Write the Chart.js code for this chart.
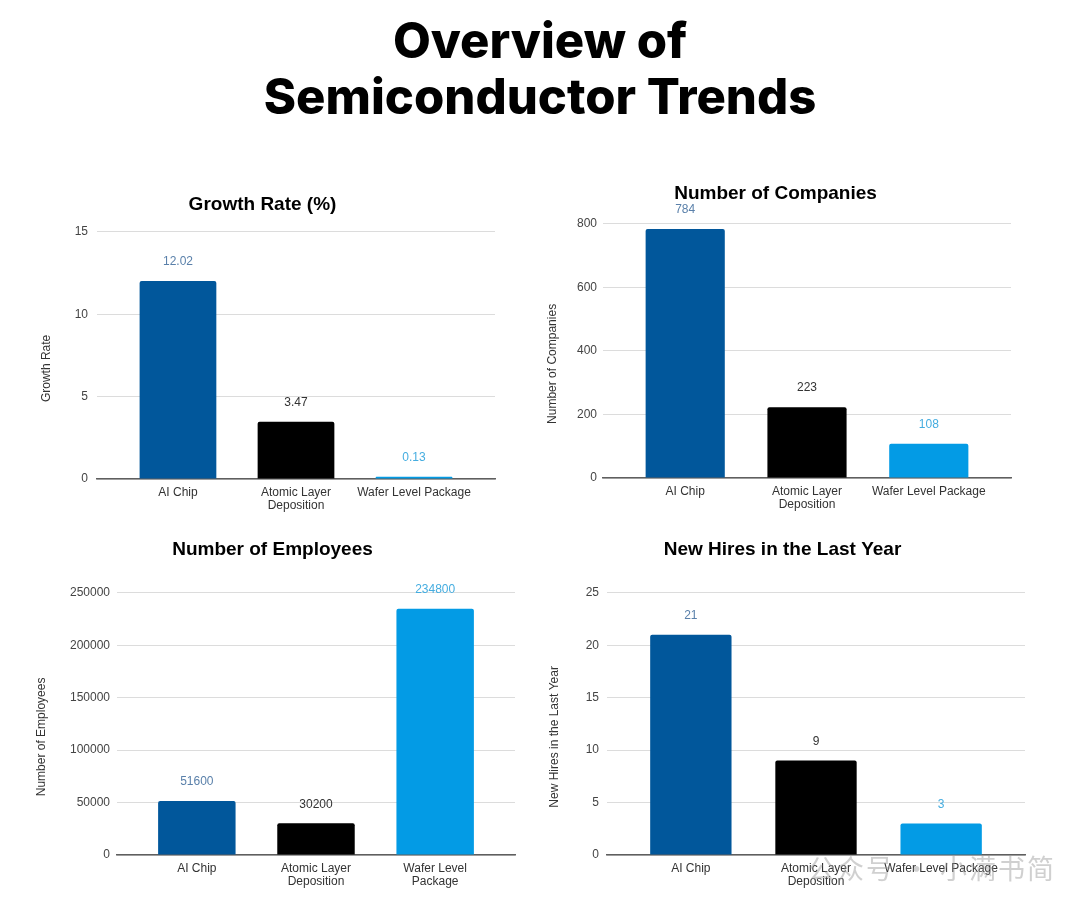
<!DOCTYPE html>
<html>
<head>
<meta charset="utf-8">
<script src="https://cdn.jsdelivr.net/npm/chart.js@4"></script>
<style>
  body { margin: 0; background: #fff; width: 1080px; height: 911px; position: relative; overflow: hidden; }
  h1 { position: absolute; left: 0; top: 13px; width: 1080px; margin: 0; text-align: center;
       font-family: "Inter", sans-serif; font-weight: 800; font-size: 49px; line-height: 56px; color: #000; }
  .box { position: absolute; }
  .mark { position: absolute; left: 808px; top: 848px; font-family: "Noto Sans CJK SC", sans-serif;
          font-size: 27px; color: rgba(150,150,150,0.45); letter-spacing: 2px; }
</style>
</head>
<body>
<h1>Overview of<br>Semiconductor Trends</h1>
<div class="box" style="left:30px;top:180px;width:476px;height:340px"><canvas id="c1"></canvas></div>
<div class="box" style="left:540px;top:170px;width:476px;height:349px"><canvas id="c2"></canvas></div>
<div class="box" style="left:30px;top:526px;width:508px;height:370px"><canvas id="c3"></canvas></div>
<div class="box" style="left:540px;top:526px;width:510px;height:370px"><canvas id="c4"></canvas></div>
<div class="mark">公众号 · 小满书简</div>
<script>
const categories = ['AI Chip', 'Atomic Layer Deposition', 'Wafer Level Package'];
const growthRate = [12.02, 3.47, 0.13];
const companies = [784, 223, 108];
const employees = [51600, 30200, 234800];
const newHires = [21, 9, 3];

// how the category names wrap under each chart
const labelsWide = [['AI Chip'], ['Atomic Layer', 'Deposition'], ['Wafer Level Package']];
const labelsNarrow = [['AI Chip'], ['Atomic Layer', 'Deposition'], ['Wafer Level', 'Package']];

const barColors = ['#01579b', '#000000', '#039be5'];
const valueColors = ['#5a80aa', '#333333', '#45ade0'];
const FONT = '"Liberation Sans", Arial, sans-serif';

const valueLabels = {
  id: 'valueLabels',
  afterDatasetsDraw(chart) {
    const ctx = chart.ctx;
    const meta = chart.getDatasetMeta(0);
    ctx.save();
    ctx.font = '12px ' + FONT;
    ctx.textAlign = 'center';
    ctx.textBaseline = 'middle';
    meta.data.forEach((bar, i) => {
      ctx.fillStyle = valueColors[i];
      ctx.fillText(String(chart.data.datasets[0].data[i].y), bar.x, bar.y - 19);
    });
    ctx.restore();
  }
};

// y axis title, sits a bit below the middle of the plot like the sheets export
const yTitle = {
  id: 'yTitle',
  afterDraw(chart, args, opts) {
    const ctx = chart.ctx;
    const a = chart.chartArea;
    ctx.save();
    ctx.translate(opts.x, (a.top + a.bottom) / 2 + 13);
    ctx.rotate(-Math.PI / 2);
    ctx.font = '12px ' + FONT;
    ctx.fillStyle = '#333';
    ctx.textAlign = 'center';
    ctx.textBaseline = 'middle';
    ctx.fillText(opts.text, 0, 0);
    ctx.restore();
  }
};

function makeChart(id, cfg) {
  const pts = cfg.values.map((v, i) => ({ x: i, y: v }));
  new Chart(document.getElementById(id), {
    type: 'bar',
    data: { datasets: [{ data: pts, backgroundColor: barColors, barPercentage: 0.65, categoryPercentage: 1, borderRadius: 2, borderSkipped: 'bottom' }] },
    options: {
      responsive: true,
      maintainAspectRatio: false,
      animation: false,
      layout: { padding: { left: 0, right: cfg.padRight, top: 0, bottom: 0 } },
      plugins: {
        legend: { display: false },
        tooltip: { enabled: false },
        title: { display: true, text: cfg.title, color: '#000', font: { family: FONT, size: 19, weight: 'bold' },
                 padding: { top: cfg.titleTop, bottom: cfg.titleBottom } },
        yTitle: { text: cfg.axisTitle, x: cfg.axisTitleX }
      },
      scales: {
        x: {
          type: 'linear', min: -cfg.side, max: 2 + cfg.side, bounds: 'data', offset: false,
          grid: { display: false, offset: false, drawTicks: false },
          border: { display: true, color: '#5f5f5f', width: 1.5 },
          afterBuildTicks: s => { s.ticks = categories.map((c, i) => ({ value: i })); },
          ticks: {
            autoSkip: false, maxRotation: 0, minRotation: 0, padding: 7,
            color: '#333', font: { family: FONT, size: 12, lineHeight: 1.1 },
            callback: (v, i) => cfg.labels[i]
          },
          afterFit: s => { s.height = cfg.xHeight; }
        },
        y: {
          min: 0, max: cfg.max,
          grid: { color: '#dcdcdc', drawTicks: false },
          border: { display: false },
          ticks: { stepSize: cfg.step, padding: cfg.tickPad, color: '#444', font: { family: FONT, size: 12 },
                   callback: v => String(v) },
          afterFit: s => { s.width = cfg.yWidth; }
        }
      }
    },
    plugins: [valueLabels, yTitle]
  });
}

makeChart('c1', { title: 'Growth Rate (%)', axisTitle: 'Growth Rate', values: growthRate, labels: labelsWide,
  max: 15, step: 5, side: 0.686, padRight: 11, yWidth: 67, tickPad: 9, axisTitleX: 17,
  titleTop: 13, titleBottom: 16, xHeight: 41 });
makeChart('c2', { title: 'Number of Companies', axisTitle: 'Number of Companies', values: companies, labels: labelsWide,
  max: 800, step: 200, side: 0.675, padRight: 5, yWidth: 63, tickPad: 6, axisTitleX: 13,
  titleTop: 12, titleBottom: 19, xHeight: 41 });
makeChart('c3', { title: 'Number of Employees', axisTitle: 'Number of Employees', values: employees, labels: labelsNarrow,
  max: 250000, step: 50000, side: 0.67, padRight: 23, yWidth: 87, tickPad: 7, axisTitleX: 12,
  titleTop: 12, titleBottom: 32, xHeight: 41 });
makeChart('c4', { title: 'New Hires in the Last Year', axisTitle: 'New Hires in the Last Year', values: newHires, labels: labelsWide,
  max: 25, step: 5, side: 0.67, padRight: 25, yWidth: 67, tickPad: 8, axisTitleX: 15,
  titleTop: 12, titleBottom: 32, xHeight: 41 });
</script>
</body>
</html>
